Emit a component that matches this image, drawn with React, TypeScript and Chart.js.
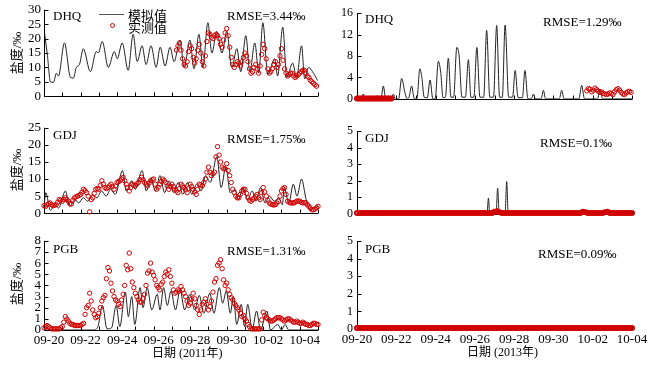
import React, { useEffect, useRef } from 'react';
import { Chart, registerables } from 'chart.js';
Chart.register(...registerables);

const SERIF = '"Liberation Serif", "Times New Roman", "Noto Sans CJK SC", serif';
const OBS_COLOR = '#d00000';
const LINE_COLOR = '#222222';

// x tick labels (days since 09-20)
const tickDays = [0, 2, 4, 6, 8, 10, 12, 14];
const tickLabels2011 = ['09-20', '09-22', '09-24', '09-26', '09-28', '09-30', '10-02', '10-04'];
const tickLabels2013 = ['09-20', '09-22', '09-24', '09-26', '09-28', '09-30', '10-02', '10-04'];

// ---- 2011 DHQ ----
const dhq2011Model: [number, number][] = [
  [0.03, 22], [0.19, 14], [0.35, 5], [0.52, 4.8], [0.68, 8], [0.79, 7], [1.12, 18.5], [1.45, 6.5], [1.61, 6.3],
  [1.77, 10], [1.94, 11], [2.15, 16.5], [2.54, 8.5], [2.86, 15.5], [2.97, 15], [3.19, 19], [3.52, 10], [3.85, 15.5],
  [4.01, 13], [4.28, 18.5], [4.61, 9], [4.88, 21.5], [5.1, 12], [5.37, 17.5], [5.59, 11], [5.86, 17.5], [6.14, 10],
  [6.36, 17], [6.63, 10.5], [6.9, 17], [7.12, 12], [7.45, 19.5], [7.67, 10], [7.99, 19.5], [8.21, 9.5], [8.48, 21.5],
  [8.7, 10], [8.97, 25.5], [9.19, 15], [9.46, 22.5], [9.74, 15], [10.01, 22.5], [10.28, 10], [10.56, 16.5], [10.77, 8.5],
  [11.05, 21], [11.27, 8.5], [11.54, 18.5], [11.76, 8], [11.98, 25.5], [12.25, 7.5], [12.63, 13], [12.79, 7], [13.07, 24],
  [13.29, 6.5], [13.61, 11.5], [13.83, 6.5], [14.1, 17.5], [14.27, 6], [14.48, 10], [14.7, 8.5], [14.97, 5.5],
];
const dhq2011ObsStart = 7.25;
const dhq2011ObsStep = 1 / 12;
const dhq2011Obs = [
  16, 17.5, 18.5, 16, 13, 11, 10.5, 12, 15.5, 17.5, 16.5, 13.5, 11.5, 13, 16, 18, 15, 12, 10.5, 14, 19, 22, 21.5, 20.5,
  20, 21, 21.5, 21, 20, 18, 17, 19.5, 22, 23.5, 21, 17, 13.5, 11, 10, 11, 12, 11.5, 10.5, 12, 13.5, 15, 14, 12, 9.5, 8,
  8.5, 10, 11, 9.5, 8, 10.5, 14.5, 18, 16.5, 13, 9.5, 8, 8.5, 9.5, 11, 12, 10, 11, 14, 16.5, 12.5, 9.5, 8, 7, 7.5, 8, 8,
  7, 6.5, 7, 7.5, 8, 8.5, 9, 9, 8, 7, 6.5, 5.5, 5, 4.5, 4, 3.5,
];

// ---- 2011 GDJ ----
const gdj2011Model: [number, number][] = [
  [0, 2], [0.1, 6], [0.35, 0.8], [0.6, 2.5], [0.8, 1.5], [1.17, 6.5], [1.4, 2], [1.7, 4], [1.9, 3], [2.15, 4.5], [2.4, 3.5],
  [2.65, 5.5], [2.9, 4.5], [3.15, 6.5], [3.4, 5], [3.65, 7], [3.9, 5.5], [4.3, 12.5], [4.5, 6.5], [4.8, 9.5], [5.0, 7],
  [5.37, 12.5], [5.6, 6.5], [5.85, 10], [6.1, 6.5], [6.35, 11], [6.6, 6], [6.85, 9.5], [7.1, 6], [7.35, 9], [7.6, 5.5],
  [7.85, 9], [8.1, 5.5], [8.35, 8.5], [8.6, 6.5], [8.85, 11], [9.1, 9], [9.46, 16.5], [9.7, 7.5], [9.95, 13.5], [10.2, 6],
  [10.45, 7], [10.65, 4], [10.9, 7.5], [11.15, 4], [11.4, 6.5], [11.6, 3.5], [11.85, 7.5], [12.1, 3], [12.35, 5], [12.6, 3.5],
  [12.85, 4.5], [13.05, 2.5], [13.15, 7.5], [13.4, 3], [13.65, 8.5], [13.85, 5], [14.1, 10], [14.35, 4], [14.6, 1],
  [14.8, 1.5], [15.0, 2],
];
const gdj2011ObsStart = 0;
const gdj2011ObsStep = 1 / 12;
const gdj2011Obs = [
  2.2, 2.0, 2.5, 2.8, 3, 2.5, 2.2, 2.3, 2.5, 3.2, 4, 3.8, 3.5, 4.0, 4.5, 4.0, 3.5, 2.8, 2.7, 3.8,
  4.5, 4.8, 5, 5.2, 5.5, 6.2, 7, 6.6, 6, 5.0, 0.4, 4.0, 4.5, 5.8, 7, 7.2, 7, 8.2, 9.5, 8.5,
  7.5, 7.2, 7.5, 8.0, 8.5, 7.8, 7, 8.0, 9, 9.3, 9.5, 10.0, 10.5, 9.5, 8.5, 7.5, 6.5, 7.5, 8.5, 8.2,
  8, 8.6, 9, 9.8, 10.5, 9.8, 9, 8.5, 8, 8.8, 9.5, 9.8, 10, 8.5, 7, 7.6, 8.5, 9.3, 10, 9.5,
  9, 8.0, 7, 7.8, 8.5, 7.8, 7, 6.5, 6, 7.2, 8.5, 8.0, 7.5, 6.8, 6, 7.2, 8.5, 7.8, 7, 6.2,
  5.5, 7.0, 8.5, 8.3, 8, 9.0, 10, 12.0, 13.5, 12.0, 11, 11.5, 12, 16.5, 19.5, 17, 15, 13.5, 13, 13.0,
  14.5, 12.5, 11, 9.0, 7, 6.0, 5, 4.5, 4.5, 5.5, 6.5, 7.0, 7, 5.8, 4.5, 3.8, 3.5, 4.0, 4.5, 5.0,
  5.5, 4.5, 4, 6.0, 7.5, 6.2, 5, 3.8, 3, 2.7, 2.5, 2.4, 2.5, 3.0, 3.5, 5.0, 6.5, 7.2, 7.5, 5.5,
  3.5, 3.2, 3, 3.0, 3, 3.2, 3.5, 3.6, 3.5, 3.2, 3, 3.1, 3, 2.5, 2, 1.5, 1, 1.0, 1.2, 1.6,
  2,
];

// ---- 2011 PGB ----
const pgb2011Model: [number, number][] = [
  [0, 0], [2.7, 0], [2.95, 0.3], [3.2, 2.2], [3.45, 0.1], [3.7, 0.2], [3.95, 2.2], [4.15, 0.3], [4.45, 3.4], [4.62, 1.2],
  [4.8, 3], [4.97, 0.5], [5.26, 3.8], [5.42, 2], [5.65, 3.8], [5.9, 1.8], [6.2, 3.2], [6.35, 1.8], [6.55, 3.8], [6.75, 2.2],
  [6.95, 3.5], [7.2, 1.8], [7.45, 3.6], [7.7, 1.8], [7.99, 3.2], [8.25, 1.8], [8.5, 3.1], [8.75, 1.5], [9.08, 3.3],
  [9.3, 1.5], [9.6, 3.8], [9.78, 2.4], [9.98, 3.5], [10.2, 1.5], [10.37, 3], [10.55, 0.5], [10.8, 2.3], [10.98, 0.3],
  [11.15, 2.3], [11.4, 0.1], [11.64, 1.7], [11.85, 0], [12.2, 1.7], [12.4, 0], [12.8, 0.5], [13.0, 0], [13.2, 0.5],
  [13.4, 0], [15, 0],
];
const pgb2011ObsStart = 0;
const pgb2011ObsStep = 1 / 12;
const pgb2011Obs = [
  0.2, 0.3, 0.4, 0.3, 0.2, 0.1, 0.1, 0.1, 0.1, 0.1, 0.1, 0.2, 0.3, 0.7, 1.2, 1.0, 0.8, 0.6, 0.5, 0.5,
  0.4, 0.4, 0.4, 0.4, 0.4, 0.5, 0.6, 1.4, 2.0, 2.2, 3.3, 2.6, 1.8, 1.4, 1.1, 1.2, 1.5, 2.0, 2.6, 2.9,
  3.1, 4.6, 5.6, 5.3, 4.2, 3.5, 3.0, 2.7, 2.6, 2.3, 2.1, 2.7, 3.2, 4.0, 5.8, 5.4, 6.9, 5.5, 4.3, 3.8,
  3.3, 3.0, 2.7, 2.5, 2.5, 2.8, 3.2, 4.0, 5.1, 5.3, 6.0, 5.2, 4.9, 4.5, 4.0, 3.8, 3.6, 4.1, 4.3, 4.8,
  5.2, 5.0, 5.4, 4.8, 4.2, 3.6, 3.3, 3.4, 3.6, 3.5, 3.9, 3.6, 3.3, 3.0, 2.6, 2.2, 2.4, 2.8, 3.3, 2.8,
  2.2, 1.8, 1.4, 1.8, 2.3, 2.5, 2.8, 2.3, 1.8, 2.1, 2.6, 3.4, 4.3, 4.6, 5.8, 6.0, 6.3, 5.5, 4.5, 4.0,
  4.2, 3.6, 3.2, 2.9, 2.7, 2.4, 2.2, 2.0, 1.8, 1.5, 1.2, 1.3, 1.0, 0.8, 0.5, 0.3, 0.1, 0.1, 0.1, 0.1,
  0.1, 0.1, 0.1, 0.9, 1.6, 1.3, 1.1, 1.0, 0.9, 0.8, 0.8, 0.9, 1.0, 1.1, 1.1, 1.1, 1.0, 0.9, 0.8, 0.9,
  1.0, 1.0, 0.9, 0.8, 0.7, 0.7, 0.8, 0.7, 0.6, 0.6, 0.7, 0.6, 0.5, 0.5, 0.4, 0.4, 0.5, 0.6, 0.6, 0.5,
  0.5,
];

// ---- 2013 DHQ ----
const dhq2013Model: [number, number][] = [
  [0, 0], [0.22, 0], [0.32, 0.9], [0.42, 0], [1.22, 0], [1.34, 2.4], [1.46, 0], [1.76, 0], [1.85, 0.9], [1.95, 0],
  [2.12, 0], [2.27, 3.8], [2.45, 1.0], [2.55, 0], [2.65, 0.3], [2.78, 2.4], [2.92, 0], [3.05, 0], [3.2, 5.6], [3.3, 4.0],
  [3.42, 0.3], [3.58, 0.2], [3.72, 3.5], [3.86, 0], [3.98, 0], [4.14, 7.0], [4.26, 5], [4.38, 0.2], [4.5, 0.3], [4.65, 7.6],
  [4.78, 0.3], [4.92, 0.3], [5.08, 9.6], [5.2, 8], [5.34, 0.3], [5.52, 0.3], [5.67, 7.3], [5.8, 0.3], [5.95, 0.3],
  [6.1, 9.6], [6.26, 0.3], [6.45, 0.3], [6.6, 12.8], [6.76, 0.3], [6.95, 0.3], [7.11, 13.7], [7.26, 0.3], [7.4, 0.3],
  [7.54, 13.8], [7.72, 0.3], [7.92, 0.3], [8.05, 5.3], [8.2, 0.2], [8.42, 0.2], [8.55, 5.3], [8.7, 0], [8.88, 0],
  [8.98, 0.9], [9.08, 0], [9.38, 0], [9.49, 1.6], [9.6, 0], [10.3, 0], [10.42, 1.6], [10.54, 0], [11.3, 0], [11.44, 2.5],
  [11.58, 0], [12.25, 0], [12.37, 1.8], [12.5, 0], [14, 0],
];
const dhq2013ObsAStart = 0;
const dhq2013ObsAStep = 1 / 12;
const dhq2013ObsA = [
  0.05, 0.05, 0.05, 0.05, 0.05, 0.05, 0.05, 0.05, 0.05, 0.05, 0.05, 0.05, 0.05, 0.05, 0.05, 0.05, 0.05, 0.05, 0.05, 0.05,
  0.05, 0.05,
];
const dhq2013ObsBStart = 11.7;
const dhq2013ObsBStep = 1 / 12;
const dhq2013ObsB = [
  1.5, 1.9, 1.8, 1.3, 1.6, 2.0, 1.7, 1.4, 1.2, 1.3, 1.0, 0.9, 0.8, 0.9, 1.1, 1.0, 0.8, 1.3, 1.7, 1.9, 1.6, 1.2, 0.9, 0.8,
  1.1, 1.3, 1.4, 1.2,
];

// ---- 2013 GDJ ----
const gdj2013Model: [number, number][] = [
  [0, 0], [6.62, 0], [6.69, 0.95], [6.76, 0], [7.08, 0], [7.16, 1.55], [7.24, 0], [7.54, 0], [7.62, 1.95], [7.7, 0], [14, 0],
];
const gdj2013ObsStart = 0;
const gdj2013ObsStep = 1 / 8;
const gdj2013Obs = [
  0.05, 0.05, 0.05, 0.05, 0.05, 0.05, 0.05, 0.05, 0.05, 0.05, 0.05, 0.05, 0.05, 0.05, 0.05, 0.05, 0.05, 0.05, 0.05, 0.05,
  0.05, 0.05, 0.05, 0.05, 0.05, 0.05, 0.05, 0.05, 0.05, 0.05, 0.05, 0.05, 0.05, 0.05, 0.05, 0.05, 0.05, 0.05, 0.05, 0.05,
  0.05, 0.05, 0.05, 0.05, 0.05, 0.05, 0.05, 0.05, 0.05, 0.05, 0.05, 0.05, 0.05, 0.05, 0.05, 0.05, 0.12, 0.15, 0.1, 0.05,
  0.05, 0.05, 0.05, 0.05, 0.05, 0.05, 0.05, 0.05, 0.05, 0.05, 0.05, 0.05, 0.05, 0.05, 0.05, 0.05, 0.05, 0.05, 0.05, 0.05,
  0.05, 0.05, 0.05, 0.05, 0.05, 0.05, 0.05, 0.05, 0.05, 0.05, 0.05, 0.05, 0.12, 0.1, 0.05, 0.05, 0.05, 0.05, 0.05, 0.05,
  0.05, 0.1, 0.12, 0.05, 0.05, 0.05, 0.05, 0.05, 0.05, 0.05, 0.05, 0.05, 0.05,
];

// ---- 2013 PGB ----
const pgb2013Model: [number, number][] = [[0, 0], [14, 0]];
const pgb2013ObsStart = 0;
const pgb2013ObsStep = 1 / 8;
const pgb2013Obs = [
  0.05, 0.05, 0.05, 0.05, 0.05, 0.05, 0.05, 0.05, 0.05, 0.05, 0.05, 0.05, 0.05, 0.05, 0.05, 0.05, 0.05, 0.05, 0.05, 0.05,
  0.05, 0.05, 0.05, 0.05, 0.05, 0.05, 0.05, 0.05, 0.05, 0.05, 0.05, 0.05, 0.05, 0.05, 0.05, 0.05, 0.05, 0.05, 0.05, 0.05,
  0.05, 0.05, 0.05, 0.05, 0.05, 0.05, 0.05, 0.05, 0.05, 0.05, 0.05, 0.05, 0.05, 0.05, 0.05, 0.05, 0.05, 0.05, 0.05, 0.05,
  0.05, 0.05, 0.05, 0.05, 0.05, 0.05, 0.05, 0.05, 0.05, 0.05, 0.05, 0.05, 0.05, 0.05, 0.05, 0.05, 0.05, 0.05, 0.05, 0.05,
  0.05, 0.05, 0.05, 0.05, 0.05, 0.05, 0.05, 0.05, 0.05, 0.05, 0.05, 0.05, 0.05, 0.05, 0.05, 0.05, 0.05, 0.05, 0.05, 0.05,
  0.05, 0.05, 0.05, 0.05, 0.05, 0.05, 0.05, 0.05, 0.05, 0.05, 0.05, 0.05, 0.05,
];

const station = ['DHQ', 'GDJ', 'PGB'];
const rmse2011 = ['RMSE=3.44‰', 'RMSE=1.75‰', 'RMSE=1.31‰'];
const rmse2013 = ['RMSE=1.29‰', 'RMSE=0.1‰', 'RMSE=0.09‰'];

type Pt = { x: number; y: number };
const fromPairs = (arr: [number, number][]): Pt[] => arr.map(([x, y]) => ({ x, y }));
const fromSeries = (start: number, step: number, vals: number[]): Pt[] => vals.map((y, i) => ({ x: start + i * step, y }));

type ObsSet = { pts: Pt[]; bold?: boolean };
type PanelSpec = {
  left: number; top: number; w: number; h: number;
  xMax: number; yMax: number; yStep: number;
  yW: number; rightCol: boolean; showX: boolean;
  labels: string[]; tickFont: number; labelOffset: number;
  model: Pt[]; obs: ObsSet[];
};

const panels: PanelSpec[] = [
  { left: 44, top: 7, w: 274, h: 92, xMax: 15, yMax: 30, yStep: 5, yW: 36, rightCol: false, showX: false, labels: tickLabels2011, tickFont: 13, labelOffset: 5,
    model: fromPairs(dhq2011Model), obs: [{ pts: fromSeries(dhq2011ObsStart, dhq2011ObsStep, dhq2011Obs) }] },
  { left: 44, top: 125, w: 274, h: 91, xMax: 15, yMax: 25, yStep: 5, yW: 36, rightCol: false, showX: false, labels: tickLabels2011, tickFont: 13, labelOffset: 5,
    model: fromPairs(gdj2011Model), obs: [{ pts: fromSeries(gdj2011ObsStart, gdj2011ObsStep, gdj2011Obs) }] },
  { left: 44, top: 238, w: 274, h: 92, xMax: 15, yMax: 8, yStep: 1, yW: 36, rightCol: false, showX: true, labels: tickLabels2011, tickFont: 13, labelOffset: 5,
    model: fromPairs(pgb2011Model), obs: [{ pts: fromSeries(pgb2011ObsStart, pgb2011ObsStep, pgb2011Obs) }] },
  { left: 357, top: 10, w: 275, h: 92, xMax: 14, yMax: 16, yStep: 4, yW: 24, rightCol: true, showX: false, labels: tickLabels2013, tickFont: 12, labelOffset: 0,
    model: fromPairs(dhq2013Model),
    obs: [{ pts: fromSeries(dhq2013ObsAStart, dhq2013ObsAStep, dhq2013ObsA), bold: true }, { pts: fromSeries(dhq2013ObsBStart, dhq2013ObsBStep, dhq2013ObsB) }] },
  { left: 357, top: 128, w: 275, h: 89, xMax: 14, yMax: 5, yStep: 1, yW: 24, rightCol: true, showX: false, labels: tickLabels2013, tickFont: 12, labelOffset: 0,
    model: fromPairs(gdj2013Model), obs: [{ pts: fromSeries(gdj2013ObsStart, gdj2013ObsStep, gdj2013Obs), bold: true }] },
  { left: 357, top: 238, w: 275, h: 91, xMax: 14, yMax: 5, yStep: 1, yW: 24, rightCol: true, showX: true, labels: tickLabels2013, tickFont: 12, labelOffset: 0,
    model: fromPairs(pgb2013Model), obs: [{ pts: fromSeries(pgb2013ObsStart, pgb2013ObsStep, pgb2013Obs), bold: true }] },
];

const axisPlugin = {
  id: 'inwardAxes',
  beforeDatasetsDraw(chart: any) {
    const { ctx, chartArea: a, scales } = chart;
    ctx.save();
    ctx.strokeStyle = '#000';
    ctx.lineWidth = 1;
    ctx.beginPath();
    const L = Math.round(a.left) + 0.5;
    const B = Math.round(a.bottom) + 0.5;
    ctx.moveTo(L, a.top);
    ctx.lineTo(L, B);
    ctx.lineTo(a.right, B);
    scales.x.ticks.forEach((t: any) => {
      const px = Math.round(scales.x.getPixelForValue(t.value)) + 0.5;
      ctx.moveTo(px, B);
      ctx.lineTo(px, B - 4);
    });
    scales.y.ticks.forEach((t: any) => {
      const py = Math.round(scales.y.getPixelForValue(t.value)) + 0.5;
      ctx.moveTo(L, py);
      ctx.lineTo(L + 4, py);
    });
    ctx.stroke();
    ctx.restore();
  },
};

function geom(p: PanelSpec) {
  const padTop = 8;
  const padRight = p.rightCol ? 22 : 6;
  const xH = p.showX ? 22 : 8;
  return {
    padTop, padRight, xH,
    cl: p.left - p.yW, ct: p.top - padTop,
    cw: p.yW + p.w + padRight, ch: padTop + p.h + xH,
  };
}

function Panel({ p }: { p: PanelSpec }) {
  const ref = useRef<HTMLCanvasElement>(null);
  const g = geom(p);
  useEffect(() => {
    if (!ref.current) return;
    const obsSets = p.obs.map((o) => ({
      data: o.pts,
      showLine: false,
      pointRadius: o.bold ? 2 : 2.2,
      pointBorderWidth: o.bold ? 2 : 1,
      pointBorderColor: OBS_COLOR,
      pointBackgroundColor: 'rgba(0,0,0,0)',
      clip: false as any,
    }));
    const chart = new Chart(ref.current, {
      type: 'scatter',
      data: {
        datasets: [
          ...obsSets,
          {
            data: p.model,
            showLine: true,
            borderColor: LINE_COLOR,
            borderWidth: 1,
            pointRadius: 0,
            cubicInterpolationMode: 'monotone',
          } as any,
        ],
      },
      options: {
        animation: false,
        responsive: false,
        devicePixelRatio: 1,
        layout: { padding: { top: g.padTop, right: g.padRight, left: 0, bottom: 0 } },
        plugins: { legend: { display: false }, tooltip: { enabled: false } },
        scales: {
          x: {
            type: 'linear',
            min: 0,
            max: p.xMax,
            grid: { display: false, drawTicks: false },
            border: { display: false },
            ticks: {
              display: p.showX,
              stepSize: 1,
              autoSkip: false,
              maxRotation: 0,
              minRotation: 0,
              padding: 3,
              labelOffset: p.labelOffset,
              color: '#000',
              font: { family: SERIF, size: 13 },
              callback: (v: any) => {
                const i = tickDays.indexOf(Number(v));
                return i >= 0 ? p.labels[i] : '';
              },
            },
            afterFit: (s: any) => { s.height = g.xH; },
          },
          y: {
            min: 0,
            max: p.yMax,
            grid: { display: false, drawTicks: false },
            border: { display: false },
            ticks: {
              stepSize: p.yStep,
              autoSkip: false,
              padding: p.rightCol ? 4 : 3,
              color: '#000',
              font: { family: SERIF, size: p.tickFont },
            },
            afterFit: (s: any) => { s.width = p.yW; },
          },
        },
      },
      plugins: [axisPlugin],
    });
    return () => chart.destroy();
  }, []);
  return (
    <canvas
      ref={ref}
      width={g.cw}
      height={g.ch}
      style={{ position: 'absolute', left: g.cl, top: g.ct, width: g.cw, height: g.ch }}
    />
  );
}

const txt = (text: string, x: number, cy: number, size = 13, key?: string) => (
  <div
    key={key ?? text + x + cy}
    style={{
      position: 'absolute', left: x, top: cy - size / 2, fontSize: size, lineHeight: `${size}px`,
      fontFamily: SERIF, color: '#000', whiteSpace: 'nowrap',
    }}
  >
    {text}
  </div>
);

export default function App() {
  const leftY = [53, 170, 284];
  return (
    <div style={{ position: 'absolute', left: 0, top: 0, width: 650, height: 365, background: '#fff', overflow: 'hidden' }}>
      {panels.map((p, i) => <Panel key={i} p={p} />)}
      {txt(station[0], 53, 15, 13, 's0')}
      {txt(station[1], 53, 134, 13, 's1')}
      {txt(station[2], 53, 248, 13, 's2')}
      {txt(station[0], 365, 18, 13, 's3')}
      {txt(station[1], 365, 137, 13, 's4')}
      {txt(station[2], 365, 248, 13, 's5')}
      {txt(rmse2011[0], 227, 15, 13, 'r0')}
      {txt(rmse2011[1], 227, 138, 13, 'r1')}
      {txt(rmse2011[2], 227, 250, 13, 'r2')}
      {txt(rmse2013[0], 543, 21, 13, 'r3')}
      {txt(rmse2013[1], 540, 142, 13, 'r4')}
      {txt(rmse2013[2], 538, 253, 13, 'r5')}
      <div style={{ position: 'absolute', left: 99, top: 14, width: 25, height: 0, borderTop: '1px solid #555' }} />
      <div style={{ position: 'absolute', left: 110, top: 23, width: 3, height: 3, border: `1px solid ${OBS_COLOR}`, borderRadius: '50%' }} />
      {txt('模拟值', 128, 15, 13, 'lg0')}
      {txt('实测值', 128, 27, 13, 'lg1')}
      {txt('日期 (2011年)', 152, 353, 12, 'xt0')}
      {txt('日期 (2013年)', 467, 352, 12, 'xt1')}
      {leftY.map((cy, i) => (
        <div
          key={'yt' + i}
          style={{
            position: 'absolute', left: 16, top: cy, fontSize: 13, lineHeight: '13px', fontFamily: SERIF,
            whiteSpace: 'nowrap', transform: 'translate(-50%, -50%) rotate(-90deg)',
          }}
        >
          盐度/‰
        </div>
      ))}
    </div>
  );
}
